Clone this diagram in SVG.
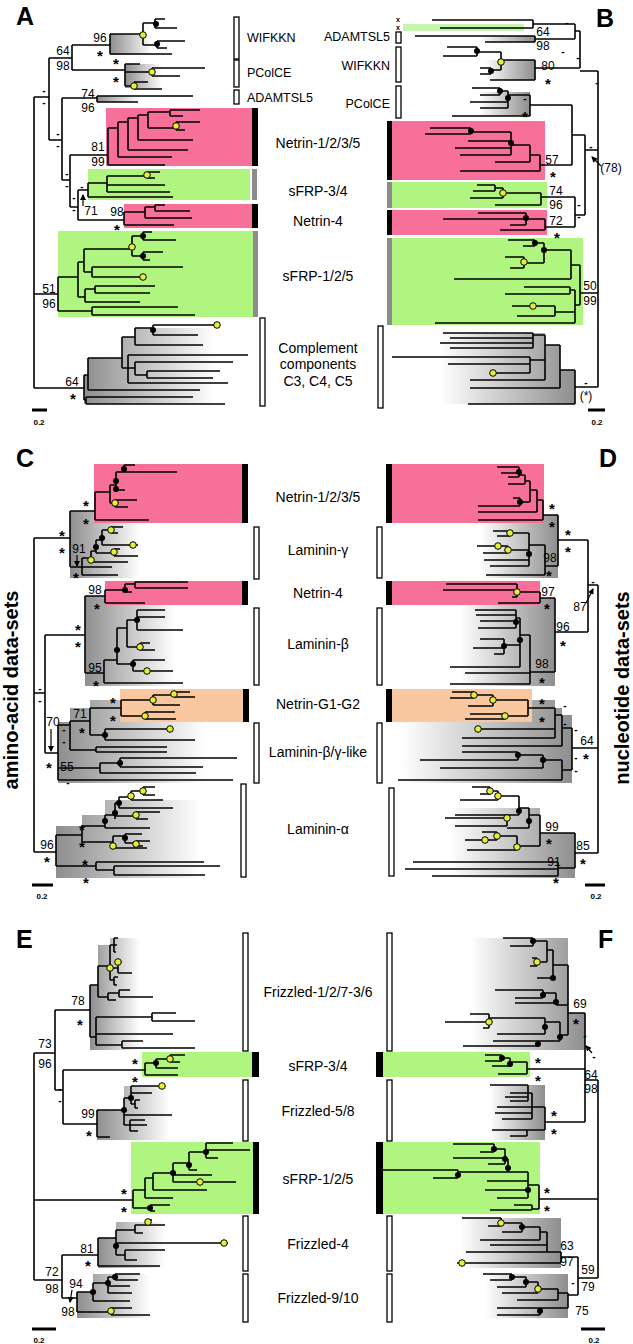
<svg xmlns="http://www.w3.org/2000/svg" width="633" height="1344" viewBox="0 0 633 1344">
<style>
.br{fill:none;stroke:#000;stroke-width:1.6}
.ar{fill:none;stroke:#000;stroke-width:1.2}
.bd{fill:#000}
.yd{fill:#e4ee3a;stroke:#000;stroke-width:1}
.pk{fill:#f7709a}
.gn{fill:#b0f57f}
.or{fill:#f9c8a0}
.wb{fill:#fff;stroke:#000;stroke-width:1.3}
.kb{fill:#000}
.gb{fill:#8c8c8c}
text{font-family:"Liberation Sans",Arial,sans-serif;fill:#000}
.n{font-size:12px;text-anchor:middle}
.s{font-size:15px;font-weight:bold;text-anchor:middle}
.d{font-size:10px;font-weight:bold;text-anchor:middle}
.cl{font-size:14px;text-anchor:middle}
.sl{font-size:12.5px}
.pl{font-size:25px;font-weight:bold}
.sc{font-size:8px;font-weight:bold;text-anchor:middle}
.xm{font-size:7px;font-weight:bold;text-anchor:middle}
.vt{font-size:20px;font-weight:bold;text-anchor:middle}
</style>
<defs>
<linearGradient id="gl" x1="0" y1="0" x2="1" y2="0"><stop offset="0" stop-color="#8e8e8e"/><stop offset="1" stop-color="#fff"/></linearGradient>
<linearGradient id="gr" x1="1" y1="0" x2="0" y2="0"><stop offset="0" stop-color="#8e8e8e"/><stop offset="1" stop-color="#fff"/></linearGradient>
<marker id="ah" viewBox="0 0 6 6" refX="5" refY="3" markerWidth="5" markerHeight="5" orient="auto"><path d="M0,0L6,3L0,6z" fill="#000"/></marker>
</defs>
<rect width="633" height="1344" fill="#fff"/>

<!-- panel letters and side titles -->
<g id="letters">
<text class="pl" x="16" y="25">A</text>
<text class="pl" x="596" y="27">B</text>
<text class="pl" x="16" y="467">C</text>
<text class="pl" x="599" y="467">D</text>
<text class="pl" x="16" y="948">E</text>
<text class="pl" x="598" y="948">F</text>
<text class="vt" transform="translate(18,690) rotate(-90)">amino-acid data-sets</text>
<text class="vt" transform="translate(629,688) rotate(-90)">nucleotide data-sets</text>
</g>

<!-- gradients (clade shading) -->
<g id="shading">
<polygon fill="url(#gl)" points="110,34 152,34 152,55 110,55"/>
<polygon fill="url(#gl)" points="125,64 162,64 162,88 125,88"/>
<polygon fill="url(#gl)" points="97,96 140,96 140,102 97,102"/>
<polygon fill="url(#gl)" points="84,404 84,375 88,375 88,358 122,358 122,337 135,337 135,328 215,328 215,404"/>
<polygon fill="url(#gr)" points="485,60 535,60 535,80 485,80"/>
<polygon fill="url(#gr)" points="480,92 530,92 530,116 480,116"/>
<polygon fill="url(#gr)" points="480,36 535,36 535,42 480,42"/>
<polygon fill="url(#gr)" points="440,333 545,333 545,345 560,345 560,370 575,370 575,404 440,404"/>
<polygon fill="url(#gl)" points="70,511 140,511 140,578 70,578"/>
<polygon fill="url(#gl)" points="85,596 175,596 175,686 85,686"/>
<polygon fill="url(#gl)" points="58,722 70,722 70,708 90,708 90,700 205,700 205,783 58,783"/>
<polygon fill="url(#gl)" points="56,826 82,826 82,815 105,815 105,800 200,800 200,878 56,878"/>
<polygon fill="url(#gr)" points="480,515 558,515 558,578 480,578"/>
<polygon fill="url(#gr)" points="460,598 555,598 555,686 460,686"/>
<polygon fill="url(#gr)" points="400,700 555,700 555,708 562,708 562,715 572,715 572,783 400,783"/>
<polygon fill="url(#gr)" points="450,808 540,808 540,833 575,833 575,878 450,878"/>
<polygon fill="url(#gl)" points="90,985 98,985 98,945 110,945 110,938 140,938 140,1050 90,1050"/>
<polygon fill="url(#gl)" points="97,1110 124,1110 124,1086 170,1086 170,1140 97,1140"/>
<polygon fill="url(#gl)" points="98,1238 116,1238 116,1222 165,1222 165,1268 98,1268"/>
<polygon fill="url(#gl)" points="77,1292 93,1292 93,1274 150,1274 150,1318 77,1318"/>
<polygon fill="url(#gr)" points="470,938 568,938 568,1013 585,1013 585,1050 470,1050"/>
<polygon fill="url(#gr)" points="490,1085 545,1085 545,1140 490,1140"/>
<polygon fill="url(#gr)" points="460,1218 561,1218 561,1268 460,1268"/>
<polygon fill="url(#gr)" points="485,1274 568,1274 568,1318 485,1318"/>
</g>

<!-- ===== Panel A nodes ===== -->
<g id="A-wifkkn"><rect class="wb" x="234" y="17" width="5" height="42"/><text class="sl" x="247" y="42">WIFKKN</text></g>
<g id="A-pcolce"><rect class="wb" x="234" y="60" width="5" height="27"/><text class="sl" x="247" y="77">PColCE</text></g>
<g id="A-adamtsl5"><rect class="wb" x="234" y="90" width="5" height="14"/><text class="sl" x="247" y="102">ADAMTSL5</text></g>
<g id="A-netrin1235"><rect class="pk" x="106" y="108" width="146" height="58"/><rect class="kb" x="252" y="108" width="6" height="58"/><text class="cl" x="318" y="148">Netrin-1/2/3/5</text></g>
<g id="A-sfrp34"><rect class="gn" x="88" y="169" width="162" height="31"/><rect class="gb" x="252" y="169" width="5" height="31"/><text class="cl" x="318" y="196">sFRP-3/4</text></g>
<g id="A-netrin4"><rect class="pk" x="124" y="204" width="128" height="24"/><rect class="kb" x="252" y="204" width="6" height="24"/><text class="cl" x="318" y="226">Netrin-4</text></g>
<g id="A-sfrp125"><rect class="gn" x="58" y="231" width="195" height="86"/><rect class="gb" x="253" y="231" width="5" height="86"/><text class="cl" x="318" y="281">sFRP-1/2/5</text></g>
<g id="A-complement"><rect class="wb" x="260" y="318" width="5" height="88"/><text class="cl" x="318" y="353">Complement</text><text class="cl" x="318" y="369">components</text><text class="cl" x="318" y="386">C3, C4, C5</text></g>

<!-- ===== Panel B nodes ===== -->
<g id="B-xseqs"><rect fill="#c6f5b0" x="403" y="24" width="121" height="7"/><text class="xm" x="398" y="22">x</text><text class="xm" x="398" y="30">x</text></g>
<g id="B-adamtsl5"><rect class="wb" x="396" y="32" width="5" height="11"/><text class="sl" x="390" y="41" text-anchor="end">ADAMTSL5</text></g>
<g id="B-wifkkn"><rect class="wb" x="396" y="47" width="5" height="35"/><text class="sl" x="390" y="70" text-anchor="end">WIFKKN</text></g>
<g id="B-pcolce"><rect class="wb" x="396" y="86" width="5" height="32"/><text class="sl" x="390" y="108" text-anchor="end">PColCE</text></g>
<g id="B-netrin1235"><rect class="pk" x="392" y="121" width="153" height="59"/><rect class="kb" x="387" y="121" width="5" height="59"/></g>
<g id="B-sfrp34"><rect class="gn" x="392" y="182" width="155" height="26"/><rect class="gb" x="387" y="182" width="5" height="26"/></g>
<g id="B-netrin4"><rect class="pk" x="392" y="210" width="155" height="25"/><rect class="kb" x="387" y="210" width="5" height="25"/></g>
<g id="B-sfrp125"><rect class="gn" x="392" y="238" width="191" height="87"/><rect class="gb" x="387" y="238" width="5" height="87"/></g>
<g id="B-complement"><rect class="wb" x="378" y="326" width="5" height="82"/></g>

<!-- ===== Panel C nodes ===== -->
<g id="C-netrin1235"><rect class="pk" x="94" y="464" width="149" height="59"/><rect class="kb" x="242" y="464" width="6" height="59"/><text class="cl" x="318" y="502">Netrin-1/2/3/5</text></g>
<g id="C-lamg"><rect class="wb" x="254" y="527" width="5" height="52"/><text class="cl" x="318" y="555">Laminin-γ</text></g>
<g id="C-netrin4"><rect class="pk" x="105" y="581" width="138" height="24"/><rect class="kb" x="242" y="581" width="6" height="24"/><text class="cl" x="318" y="598">Netrin-4</text></g>
<g id="C-lamb"><rect class="wb" x="254" y="608" width="5" height="77"/><text class="cl" x="318" y="649">Laminin-β</text></g>
<g id="C-netring"><rect class="or" x="120" y="689" width="124" height="33"/><rect class="kb" x="243" y="689" width="6" height="33"/><text class="cl" x="318" y="709">Netrin-G1-G2</text></g>
<g id="C-lambg"><rect class="wb" x="254" y="723" width="5" height="60"/><text class="cl" x="318" y="757">Laminin-β/γ-like</text></g>
<g id="C-lama"><rect class="wb" x="241" y="784" width="5" height="93"/><text class="cl" x="318" y="834">Laminin-α</text></g>

<!-- ===== Panel D nodes ===== -->
<g id="D-netrin1235"><rect class="pk" x="392" y="464" width="152" height="59"/><rect class="kb" x="386" y="464" width="6" height="59"/></g>
<g id="D-lamg"><rect class="wb" x="377" y="527" width="5" height="51"/></g>
<g id="D-netrin4"><rect class="pk" x="392" y="581" width="148" height="24"/><rect class="kb" x="386" y="581" width="6" height="24"/></g>
<g id="D-lamb"><rect class="wb" x="377" y="608" width="5" height="77"/></g>
<g id="D-netring"><rect class="or" x="392" y="689" width="140" height="33"/><rect class="kb" x="386" y="689" width="6" height="33"/></g>
<g id="D-lambg"><rect class="wb" x="377" y="723" width="5" height="60"/></g>
<g id="D-lama"><rect class="wb" x="389" y="788" width="5" height="88"/></g>

<!-- ===== Panel E nodes ===== -->
<g id="E-fz12736"><rect class="wb" x="243" y="933" width="5" height="118"/><text class="cl" x="318" y="997">Frizzled-1/2/7-3/6</text></g>
<g id="E-sfrp34"><rect class="gn" x="142" y="1052" width="110" height="25"/><rect class="kb" x="252" y="1052" width="7" height="25"/><text class="cl" x="318" y="1071">sFRP-3/4</text></g>
<g id="E-fz58"><rect class="wb" x="243" y="1080" width="5" height="61"/><text class="cl" x="318" y="1116">Frizzled-5/8</text></g>
<g id="E-sfrp125"><rect class="gn" x="131" y="1142" width="122" height="72"/><rect class="kb" x="253" y="1142" width="6" height="72"/><text class="cl" x="318" y="1184">sFRP-1/2/5</text></g>
<g id="E-fz4"><rect class="wb" x="243" y="1216" width="5" height="55"/><text class="cl" x="318" y="1249">Frizzled-4</text></g>
<g id="E-fz910"><rect class="wb" x="243" y="1274" width="5" height="48"/><text class="cl" x="318" y="1303">Frizzled-9/10</text></g>

<!-- ===== Panel F nodes ===== -->
<g id="F-fz12736"><rect class="wb" x="387" y="933" width="5" height="118"/></g>
<g id="F-sfrp34"><rect class="gn" x="382" y="1052" width="148" height="25"/><rect class="kb" x="376" y="1052" width="7" height="25"/></g>
<g id="F-fz58"><rect class="wb" x="387" y="1080" width="5" height="61"/></g>
<g id="F-sfrp125"><rect class="gn" x="382" y="1142" width="158" height="72"/><rect class="kb" x="376" y="1142" width="7" height="72"/></g>
<g id="F-fz4"><rect class="wb" x="387" y="1216" width="5" height="55"/></g>
<g id="F-fz910"><rect class="wb" x="387" y="1274" width="5" height="48"/></g>

<!-- scale bars -->
<g id="scales">
<path d="M32,410H47M588,410H605M32,885H53M585,885H605M32,1329H56M581,1329H605" stroke="#000" stroke-width="3"/>
<text class="sc" x="39" y="425">0.2</text><text class="sc" x="597" y="425">0.2</text>
<text class="sc" x="42" y="899">0.2</text><text class="sc" x="596" y="899">0.2</text>
<text class="sc" x="39" y="1343">0.2</text><text class="sc" x="594" y="1343">0.2</text>
</g>

<!-- ===== connectors: tree branches ===== -->
<g id="connectors" class="br">
<path d="M34,97V388M34,97H49M49,58V140M49,58H72M72,45V70M72,45H110M72,70H125M49,140H62M62,98V180M62,98H97M62,180H70M70,155V207M70,155H108M70,207H78M78,190V220M78,190H88M78,220H124M34,294H58M34,388H84"/>
<path d="M110,34V54M110,34H143M143,23V45M143,23H155M155,19V28M155,19H165M155,28H177M143,45H157M157,41V48M157,41H185M157,48H167M110,54H172"/>
<path d="M125,64V86M125,64H140M125,72H152M152,68V76M152,68H205M152,76H180M125,86H134M134,82V89M134,82H148M134,89H162"/>
<path d="M97,96V102M97,96H193M97,102H138"/>
<path d="M108,128V165M108,165H165M108,128H118M118,122V157M118,157H172M118,122H128M128,118V150M128,150H188M128,118H138M138,115V140M138,140H193M138,115H148M148,112V128M148,128H176M176,122V130M176,122H200M176,130H185M148,112H170M170,110V116M170,110H200M170,116H183"/>
<path d="M88,183V197M88,197H173M88,183H107M107,176V192M107,192H170M107,185H165M107,176H147M147,172V178M147,172H160M147,178H155"/>
<path d="M124,212V225M124,225H174M124,212H145M145,207V218M145,218H192M145,207H155M155,205V211M155,205H165M155,211H190"/>
<path d="M58,277V311M58,277H78M78,262V297M78,262H84M84,249V272M84,249H132M132,236V256M132,236H143M143,232V240M143,232H152M143,240H176M132,256H143M143,252V260M143,252H163M143,260H150M84,272H92M92,267V277M92,267H183M92,277H143M78,297H85M85,289V302M85,289H95M95,286V293M95,286H155M95,293H150M85,302H140M58,311H92M92,307V315M92,307H178M92,315H195"/>
<path d="M84,375V400M84,375H88M88,358V390M88,358H122M122,337V368M122,337H135M135,328V345M135,328H153M153,325V335M153,325H217M153,335H198M135,345H203M122,368H128M128,355V383M128,355H248M128,383H228M128,368H135M135,362V375M135,362H233M135,375H147M147,371V378M147,371H220M147,378H213M88,390H200M84,400H86M86,397V404M86,397H193M86,404H225"/>

<path d="M598,71V387M598,71H580M580,31V68M580,31H575M575,24V39M575,24H533M533,20V28M533,20H432M533,28H440M575,39H535M535,36V42M535,36H415M535,42H485M580,68H535M598,150H585M585,135V215M585,135H572M572,105V165M572,105H530M572,165H540M585,215H575M575,197V227M575,197H541M575,227H545M598,293H580M598,387H575"/>
<path d="M535,60V80M535,80H490M535,60H501M501,52V70M501,52H477M477,47V56M477,47H447M477,56H443M501,70H491M491,68V74M491,68H480M491,74H480"/>
<path d="M530,95V116M530,116H452M530,95H508M508,91V108M508,102H470M508,108H480M508,91H500M500,88V95M500,88H472M500,95H480"/>
<path d="M540,155V171M540,171H460M540,155H530M530,145V162M530,162H495M530,145H511M511,132V155M511,141H468M511,148H455M511,155H460M511,132H471M471,128V134M471,128H430M471,134H425"/>
<path d="M541,193V205M541,205H495M541,193H503M503,188V198M503,198H470M503,188H495M495,185V191M495,185H477M495,191H473"/>
<path d="M545,219V230M545,230H500M545,219H526M526,213V225M526,213H478M526,219H443M526,225H510"/>
<path d="M580,265V305M580,265H571M571,250V279M571,279H454M571,250H544M544,243V263M544,243H535M535,240V246M535,240H508M535,246H523M544,263H524M524,257V268M524,257H505M524,268H510M580,305H575M575,290V323M575,290H570M570,287V294M570,287H524M570,294H505M575,323H435M575,312H555M555,306V316M555,306H512M555,316H517"/>
<path d="M575,370V404M575,404H468M575,370H560M560,345V388M560,388H470M560,345H545M545,335V380M545,380H470M545,335H533M533,333V348M533,333H443M533,338H450M533,343H440M533,348H450M545,360H530M530,357V373M530,357H392M530,364H448M530,373H493"/>

<path d="M34,538V852M34,538H70M34,693H45M34,852H56M70,511V567M70,511H95M70,567H82M45,635V753M45,635H85M45,753H58"/>
<path d="M95,492V520M95,520H149M95,492H110M110,485V503M110,503H115M115,500V507M115,500H137M115,507H128M110,485H116M116,472V490M116,490H125M116,472H124M124,465V472M124,465H135M124,472H177"/>
<path d="M82,558V575M82,567H112M82,575H118M82,558H91M91,551V562M91,562H128M91,551H96M96,540V553M96,553H114M114,549V556M114,549H120M114,556H138M96,540H102M102,530V545M102,530H111M111,527V533M111,527H123M111,533H118M102,545H138"/>
<path d="M85,596V673M85,596H105M105,590V603M105,603H145M105,590H125M125,584V592M125,592H132M125,584H135M135,582V588M135,582H188M135,588H188M85,673H104M104,660V683M104,683H183M104,660H117M117,628V664M117,628H127M127,620V647M127,620H137M137,610V630M137,610H165M137,617H165M137,630H183M127,647H140M140,643V650M140,643H150M140,650H155M117,664H133M133,660V671M133,660H165M133,671H173"/>
<path d="M58,725V780M58,725H70M70,721V750M70,721H90M90,708V735M90,708H121M121,700V716M121,700H153M153,695V705M153,705H180M153,695H174M174,692V697M174,692H190M174,697H195M121,716H145M145,712V719M145,712H175M145,719H176M90,735H105M105,729V740M105,729H172M105,740H195M70,750H96M96,747V752M96,747H167M96,752H167M58,768H100M100,763V773M100,763H120M120,758V767M120,758H237M120,767H203M100,773H196M58,780H233"/>
<path d="M56,835V866M56,835H82M82,826V842M82,826H105M105,815V828M105,828H150M105,815H115M115,803V819M115,803H119M119,797V808M119,808H173M119,797H131M131,791V800M131,800H163M131,791H143M143,787V795M143,787H155M143,795H155M115,816H136M136,812V819M136,812H160M136,819H148M82,842H113M113,836V848M113,848H147M113,836H125M125,834V843M125,834H142M125,843H136M136,841V846M136,841H150M136,846H143M56,866H96M96,862V870M96,862H204M96,870H114M114,866V875M114,866H220M114,875H205"/>

<path d="M598,585V853M598,585H588M588,540V632M588,540H558M588,632H555M598,748H572M598,853H575"/>
<path d="M558,515V566M558,515H543M543,500V520M543,520H478M543,500H537M537,490V512M537,512H478M537,490H530M530,481V502M530,502H520M520,498V506M520,498H513M520,506H478M530,481H525M525,475V484M525,484H508M525,475H519M519,467V477M519,467H497M519,473H501M519,477H508"/>
<path d="M558,566H545M545,545V575M545,575H486M545,545H529M529,533V566M529,533H510M510,531V536M510,531H493M510,536H497M529,550H508M508,546V553M508,546H477M508,553H483M529,560H484M529,566H490"/>
<path d="M555,598V672M555,598H540M540,592V603M540,603H498M540,592H517M517,584V597M517,584H446M517,590H443M517,597H512M555,672H530M530,635V684M530,635H520M520,618V667M520,618H516M516,610V628M516,610H475M516,615H476M516,621H480M516,628H478M520,645H504M504,639V654M504,639H480M504,648H473M504,654H494M520,667H450M530,673H465M530,684H450"/>
<path d="M572,728V770M572,728H562M562,715V746M562,715H555M555,708V738M555,708H528M528,700V716M528,700H493M493,695V706M493,695H474M474,692V698M474,692H452M474,698H450M493,706H468M528,716H505M505,714V719M505,714H470M505,719H465M555,729H477M555,738H462M562,746H462M572,770H562M562,760V780M562,760H543M543,755V768M543,755H518M518,752V760M518,752H462M518,760H420M543,768H440M562,780H398"/>
<path d="M575,833V868M575,833H540M540,815V846M540,815H529M529,808V828M529,808H519M519,796V815M519,796H498M498,791V800M498,791H490M490,787V794M490,787H472M490,794H480M498,800H460M519,815H455M529,828H507M507,818V826M507,818H445M507,826H455M540,846H517M517,836V850M517,836H497M497,832V840M497,832H482M497,840H465M517,850H467M575,868H558M558,862V876M558,862H413M558,869H405M558,876H432"/>

<path d="M34,1053V1280M34,1053H55M55,1010V1090M55,1010H90M55,1090H63M63,1070V1124M63,1070H145M63,1124H97M34,1200H133M34,1280H62M62,1255V1298M62,1255H98M62,1298H77"/>
<path d="M90,985V1037M90,985H98M98,966V997M98,966H110M110,945V980M110,945H114M114,938V952M114,938H118M114,945H117M114,952H116M110,968H118M118,962V973M118,962H122M118,973H132M110,980H114M114,977V985M114,977H118M114,985H117M98,997H108M108,993V1000M108,993H119M119,990V997M119,990H130M119,997H153M108,1000H116M90,1037H96M96,1017V1045M96,1017H152M152,1013V1021M152,1013H176M152,1021H195M96,1034H173M96,1045H122M122,1041V1048M122,1041H143M122,1048H195"/>
<path d="M145,1063V1075M145,1063H156M156,1059V1068M156,1059H170M170,1055V1062M170,1055H185M170,1062H180M156,1068H178M145,1075H178"/>
<path d="M97,1110V1137M97,1137H110M97,1110H124M124,1098V1125M124,1098H131M131,1086V1104M131,1086H165M131,1093H152M131,1104H135M135,1100V1108M135,1100H140M135,1108H138M124,1115H172M124,1125H130M130,1120V1131M130,1120H145M130,1125H147M130,1131H138"/>
<path d="M133,1190V1208M133,1190H145M145,1178V1198M145,1198H173M145,1178H153M153,1173V1190M153,1190H207M153,1173H173M173,1163V1182M173,1175H212M173,1182H236M173,1163H189M189,1152V1170M189,1170H197M189,1152H206M206,1143V1158M206,1143H233M206,1150H250M206,1158H218M133,1208H150M150,1205V1211M150,1205H170M150,1211H155"/>
<path d="M98,1238V1266M98,1266H160M98,1238H116M116,1230V1255M116,1230H135M135,1225V1233M135,1225H148M148,1220V1225M148,1220H152M148,1225H165M135,1233H143M116,1243H228M116,1255H125M125,1250V1260M125,1250H165M125,1260H137"/>
<path d="M77,1292V1312M77,1292H93M93,1283V1301M93,1283H108M108,1277V1293M108,1277H115M115,1274V1280M115,1274H140M115,1280H138M108,1286H130M108,1293H132M93,1301H130M77,1312H111M111,1308V1315M111,1308H132M111,1315H150"/>

<path d="M598,1080V1278M598,1080H585M585,1013V1122M585,1013H568M585,1069H527M585,1122H545M598,1199H539M598,1278H578M578,1257V1295M578,1257H561M578,1295H568"/>
<path d="M568,965V1035M568,965H553M553,950V978M553,950H547M547,941V962M547,941H533M533,938V946M533,938H503M533,946H510M547,962H537M537,958V966M537,958H532M537,966H530M553,978H537M568,1005H556M556,993V1003M556,993H543M543,990V998M543,990H495M543,998H515M556,1003H515M568,1035H560M560,1022V1041M560,1022H545M545,1018V1034M545,1018H489M489,1014V1028M489,1014H470M489,1022H445M489,1028H483M545,1034H497M560,1041H538M538,1041V1046M538,1041H493M538,1046H463"/>
<path d="M527,1062V1074M527,1062H510M510,1058V1066M510,1058H502M502,1055V1061M502,1055H485M502,1061H485M510,1066H492M527,1074H498"/>
<path d="M545,1107V1130M545,1107H532M532,1093V1119M532,1093H528M528,1085V1101M528,1085H490M528,1093H510M528,1097H505M528,1101H510M532,1107H497M532,1113H495M532,1119H502M545,1130H527M527,1130V1136M527,1130H492M527,1136H510"/>
<path d="M539,1185V1209M539,1185H528M528,1172V1198M528,1172H508M508,1159V1172M508,1159H505M505,1149V1164M505,1149H494M494,1144V1152M494,1144H453M494,1152H480M505,1158H453M505,1164H488M508,1172H458M458,1170V1178M458,1170H383M458,1178H433M528,1181H487M528,1190H485M528,1198H497M539,1209H532M532,1205V1210M532,1205H514M532,1210H490"/>
<path d="M561,1252V1263M561,1252H547M547,1232V1252M547,1232H540M540,1227V1240M540,1227H522M522,1223V1232M522,1223H501M501,1218V1226M501,1218H462M501,1226H488M522,1232H502M540,1240H480M547,1245H490M547,1252H466M561,1263H457"/>
<path d="M568,1293V1308M568,1293H558M558,1289V1300M558,1289H538M538,1282V1293M538,1282H526M526,1277V1287M526,1277H512M512,1274V1280M512,1274H483M512,1280H490M526,1287H497M538,1293H502M558,1300H517M568,1308H540M540,1308V1315M540,1308H497M540,1315H497"/>
</g>

<!-- arrows -->
<g id="arrows" class="ar">
<path d="M83,206V195" marker-end="url(#ah)"/>
<path d="M601,166L592,157" marker-end="url(#ah)"/>
<path d="M77,555V566" marker-end="url(#ah)"/>
<path d="M51,729V751" marker-end="url(#ah)"/>
<path d="M586,603L593,589" marker-end="url(#ah)"/>
<path d="M72,1290L70,1302" marker-end="url(#ah)"/>
<path d="M592,1053L586,1046" marker-end="url(#ah)"/>
</g>

<!-- node markers -->
<g id="markers">
<g class="bd">
<circle cx="156" cy="24" r="3"/><circle cx="157" cy="44" r="3"/>
<circle cx="143" cy="236" r="3"/><circle cx="143" cy="256" r="3"/><circle cx="153" cy="330" r="3"/>
<circle cx="477" cy="51" r="3"/><circle cx="491" cy="71" r="3"/><circle cx="500" cy="91" r="3"/><circle cx="508" cy="98" r="3"/>
<circle cx="471" cy="131" r="3"/><circle cx="511" cy="143" r="3"/><circle cx="526" cy="218" r="3"/>
<circle cx="535" cy="243" r="3"/><circle cx="544" cy="250" r="3"/>
<circle cx="124" cy="469" r="3"/><circle cx="116" cy="481" r="3"/><circle cx="116" cy="489" r="3"/>
<circle cx="96" cy="547" r="3"/><circle cx="102" cy="538" r="3"/><circle cx="125" cy="590" r="3"/>
<circle cx="137" cy="620" r="3"/><circle cx="117" cy="650" r="3"/><circle cx="133" cy="664" r="3"/>
<circle cx="105" cy="735" r="3"/><circle cx="120" cy="763" r="3"/>
<circle cx="119" cy="803" r="3"/><circle cx="115" cy="813" r="3"/><circle cx="105" cy="821" r="3"/><circle cx="125" cy="838" r="3"/>
<circle cx="519" cy="472" r="3"/><circle cx="520" cy="502" r="3"/><circle cx="529" cy="554" r="3"/>
<circle cx="516" cy="622" r="3"/><circle cx="504" cy="646" r="3"/><circle cx="520" cy="640" r="3"/>
<circle cx="518" cy="755" r="3"/><circle cx="543" cy="760" r="3"/>
<circle cx="519" cy="811" r="3"/><circle cx="529" cy="821" r="3"/>
<circle cx="156" cy="1063" r="3"/><circle cx="131" cy="1098" r="3"/><circle cx="124" cy="1110" r="3"/>
<circle cx="206" cy="1152" r="3"/><circle cx="189" cy="1165" r="3"/><circle cx="173" cy="1173" r="3"/><circle cx="150" cy="1208" r="3"/>
<circle cx="116" cy="1246" r="3"/><circle cx="115" cy="1277" r="3"/><circle cx="108" cy="1283" r="3"/><circle cx="93" cy="1292" r="3"/>
<circle cx="533" cy="941" r="3"/><circle cx="553" cy="978" r="3"/><circle cx="543" cy="995" r="3"/><circle cx="556" cy="1002" r="3"/>
<circle cx="545" cy="1027" r="3"/><circle cx="560" cy="1037" r="3"/><circle cx="538" cy="1044" r="3"/>
<circle cx="502" cy="1058" r="3"/><circle cx="510" cy="1064" r="3"/>
<circle cx="494" cy="1149" r="3"/><circle cx="505" cy="1159" r="3"/><circle cx="508" cy="1168" r="3"/><circle cx="458" cy="1175" r="3"/><circle cx="528" cy="1190" r="3"/>
<circle cx="522" cy="1227" r="3"/><circle cx="512" cy="1277" r="3"/><circle cx="526" cy="1282" r="3"/><circle cx="540" cy="1311" r="3"/>
</g>
<g class="yd">
<circle cx="143" cy="35" r="3.3"/><circle cx="152" cy="72" r="3.3"/><circle cx="134" cy="86" r="3.3"/><circle cx="176" cy="126" r="3.3"/>
<circle cx="147" cy="175" r="3.3"/><circle cx="132" cy="247" r="3.3"/><circle cx="143" cy="277" r="3.3"/><circle cx="217" cy="325" r="3.3"/>
<circle cx="501" cy="62" r="3.3"/><circle cx="503" cy="193" r="3.3"/><circle cx="524" cy="262" r="3.3"/><circle cx="533" cy="306" r="3.3"/><circle cx="493" cy="373" r="3.3"/>
<circle cx="115" cy="503" r="3.3"/><circle cx="91" cy="560" r="3.3"/><circle cx="111" cy="530" r="3.3"/><circle cx="133" cy="545" r="3.3"/><circle cx="114" cy="552" r="3.3"/>
<circle cx="140" cy="647" r="3.3"/><circle cx="147" cy="671" r="3.3"/>
<circle cx="174" cy="694" r="3.3"/><circle cx="153" cy="700" r="3.3"/><circle cx="145" cy="716" r="3.3"/><circle cx="170" cy="729" r="3.3"/>
<circle cx="143" cy="791" r="3.3"/><circle cx="131" cy="796" r="3.3"/><circle cx="136" cy="815" r="3.3"/><circle cx="113" cy="846" r="3.3"/><circle cx="136" cy="844" r="3.3"/>
<circle cx="510" cy="533" r="3.3"/><circle cx="498" cy="546" r="3.3"/><circle cx="508" cy="550" r="3.3"/><circle cx="517" cy="592" r="3.3"/>
<circle cx="474" cy="695" r="3.3"/><circle cx="493" cy="700" r="3.3"/><circle cx="505" cy="716" r="3.3"/><circle cx="478" cy="729" r="3.3"/>
<circle cx="490" cy="791" r="3.3"/><circle cx="498" cy="796" r="3.3"/><circle cx="507" cy="818" r="3.3"/><circle cx="497" cy="836" r="3.3"/><circle cx="485" cy="840" r="3.3"/><circle cx="517" cy="847" r="3.3"/>
<circle cx="110" cy="968" r="3.3"/><circle cx="118" cy="962" r="3.3"/><circle cx="170" cy="1059" r="3.3"/><circle cx="162" cy="1086" r="3.3"/>
<circle cx="200" cy="1182" r="3.3"/><circle cx="148" cy="1222" r="3.3"/><circle cx="224" cy="1243" r="3.3"/><circle cx="111" cy="1311" r="3.3"/>
<circle cx="537" cy="962" r="3.3"/><circle cx="489" cy="1022" r="3.3"/><circle cx="501" cy="1223" r="3.3"/><circle cx="462" cy="1263" r="3.3"/><circle cx="538" cy="1289" r="3.3"/>
</g>
</g>

<!-- support values -->
<g id="support">
<text class="n" x="100" y="42">96</text><text class="s" x="100" y="61">*</text>
<text class="n" x="63" y="55">64</text><text class="n" x="63" y="70">98</text>
<text class="s" x="116" y="69">*</text><text class="s" x="116" y="87">*</text>
<text class="d" x="44" y="94">-</text><text class="d" x="44" y="106">-</text>
<text class="n" x="88" y="98">74</text><text class="n" x="88" y="112">96</text>
<text class="d" x="58" y="137">-</text><text class="d" x="58" y="149">-</text>
<text class="n" x="98" y="151">81</text><text class="n" x="98" y="166">99</text>
<text class="d" x="67" y="177">-</text><text class="d" x="67" y="189">-</text>
<text class="d" x="82" y="190">-</text><text class="d" x="74" y="201">-</text><text class="d" x="74" y="213">-</text>
<text class="n" x="91" y="215">71</text>
<text class="n" x="117" y="216">98</text><text class="s" x="117" y="235">*</text>
<text class="n" x="49" y="293">51</text><text class="n" x="49" y="308">96</text>
<text class="n" x="72" y="386">64</text><text class="s" x="73" y="404">*</text>

<text class="n" x="543" y="36">64</text><text class="n" x="543" y="50">98</text>
<text class="d" x="567" y="26">-</text><text class="d" x="563" y="55">-</text><text class="d" x="578" y="61">-</text>
<text class="n" x="548" y="70">80</text><text class="s" x="548" y="89">*</text>
<text class="d" x="525" y="102">-</text><text class="s" x="525" y="122">*</text>
<text class="d" x="597" y="86">-</text>
<text class="n" x="552" y="164">57</text><text class="s" x="553" y="182">*</text>
<text class="d" x="591" y="150">-</text><text class="n" x="611" y="172">(78)</text>
<text class="n" x="556" y="195">74</text><text class="n" x="556" y="209">96</text>
<text class="d" x="579" y="208">-</text><text class="d" x="579" y="220">-</text>
<text class="n" x="556" y="225">72</text><text class="s" x="557" y="243">*</text>
<text class="n" x="590" y="290">50</text><text class="n" x="590" y="305">99</text>
<text class="d" x="586" y="386">-</text><text class="n" x="586" y="400">(*)</text>

<text class="s" x="86" y="511">*</text><text class="s" x="86" y="529">*</text>
<text class="s" x="62" y="541">*</text><text class="s" x="62" y="558">*</text>
<text class="n" x="79" y="553">91</text><text class="s" x="76" y="583">*</text>
<text class="n" x="95" y="594">98</text><text class="s" x="97" y="614">*</text>
<text class="s" x="78" y="635">*</text><text class="s" x="78" y="652">*</text>
<text class="n" x="95" y="672">95</text><text class="s" x="96" y="691">*</text>
<text class="d" x="40" y="692">-</text><text class="d" x="40" y="704">-</text>
<text class="s" x="113" y="708">*</text><text class="s" x="113" y="726">*</text>
<text class="n" x="80" y="718">71</text><text class="s" x="82" y="738">*</text>
<text class="d" x="64" y="733">-</text><text class="d" x="64" y="745">-</text>
<text class="n" x="53" y="726">70</text>
<text class="s" x="49" y="773">*</text>
<text class="n" x="67" y="771">55</text><text class="d" x="68" y="786">-</text>
<text class="s" x="82" y="835">*</text><text class="s" x="82" y="852">*</text>
<text class="n" x="47" y="849">96</text><text class="s" x="47" y="867">*</text>
<text class="s" x="85" y="870">*</text><text class="s" x="86" y="888">*</text>

<text class="s" x="552" y="514">*</text><text class="s" x="552" y="532">*</text>
<text class="s" x="568" y="540">*</text><text class="s" x="568" y="557">*</text>
<text class="n" x="550" y="562">98</text><text class="s" x="549" y="581">*</text>
<text class="n" x="548" y="596">97</text><text class="s" x="547" y="614">*</text>
<text class="d" x="593" y="585">-</text><text class="n" x="580" y="611">87</text>
<text class="n" x="563" y="631">96</text><text class="s" x="563" y="651">*</text>
<text class="n" x="542" y="668">98</text><text class="s" x="542" y="688">*</text>
<text class="s" x="542" y="709">*</text><text class="s" x="542" y="727">*</text>
<text class="d" x="565" y="709">-</text><text class="d" x="565" y="727">-</text>
<text class="d" x="576" y="733">-</text>
<text class="n" x="587" y="745">64</text><text class="s" x="586" y="764">*</text>
<text class="d" x="576" y="761">-</text><text class="d" x="576" y="774">-</text>
<text class="n" x="552" y="831">99</text><text class="s" x="549" y="849">*</text>
<text class="n" x="583" y="850">85</text><text class="s" x="583" y="869">*</text>
<text class="n" x="554" y="866">91</text><text class="s" x="556" y="888">*</text>

<text class="n" x="78" y="1005">78</text><text class="s" x="80" y="1030">*</text>
<text class="n" x="45" y="1048">73</text><text class="n" x="45" y="1068">96</text>
<text class="s" x="135" y="1069">*</text><text class="s" x="135" y="1087">*</text>
<text class="d" x="60" y="1092">-</text><text class="d" x="60" y="1104">-</text>
<text class="n" x="88" y="1118">99</text><text class="s" x="89" y="1141">*</text>
<text class="s" x="124" y="1199">*</text><text class="s" x="124" y="1217">*</text>
<text class="n" x="87" y="1253">81</text><text class="s" x="88" y="1271">*</text>
<text class="n" x="52" y="1276">72</text><text class="n" x="52" y="1293">98</text>
<text class="n" x="76" y="1288">94</text>
<text class="n" x="68" y="1316">98</text>

<text class="n" x="580" y="1008">69</text><text class="s" x="576" y="1029">*</text>
<text class="d" x="585" y="1039">-</text><text class="d" x="594" y="1060">-</text>
<text class="s" x="538" y="1068">*</text><text class="s" x="538" y="1086">*</text>
<text class="n" x="591" y="1079">64</text><text class="n" x="591" y="1093">98</text>
<text class="s" x="554" y="1121">*</text><text class="s" x="554" y="1139">*</text>
<text class="s" x="547" y="1198">*</text><text class="s" x="547" y="1216">*</text>
<text class="n" x="567" y="1250">63</text><text class="n" x="567" y="1266">97</text>
<text class="n" x="588" y="1274">59</text><text class="n" x="588" y="1291">79</text>
<text class="d" x="573" y="1286">-</text><text class="n" x="582" y="1315">75</text>
</g>
</svg>
